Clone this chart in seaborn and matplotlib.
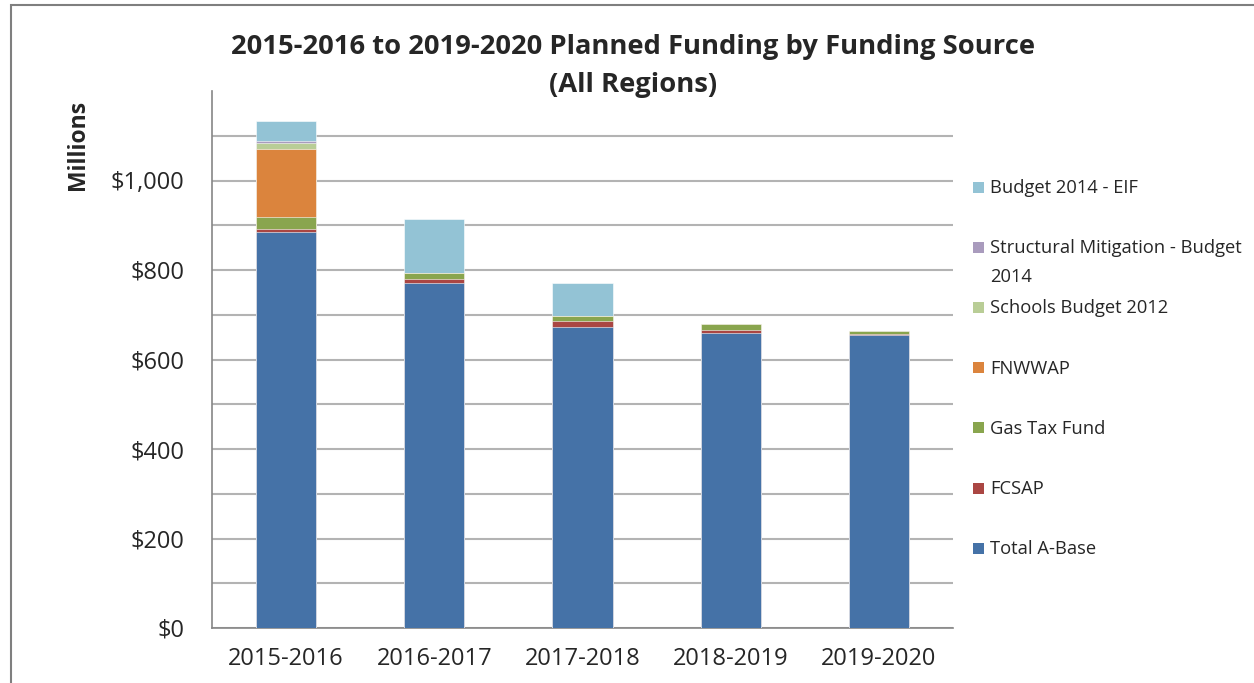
import matplotlib
matplotlib.use("Agg")
import matplotlib.pyplot as plt
import seaborn as sns
import numpy as np
import pandas as pd
from matplotlib.patches import Rectangle

years = ["2015-2016", "2016-2017", "2017-2018", "2018-2019", "2019-2020"]
total_a_base = [884, 771, 672, 659, 654]
fcsap = [7, 8, 13, 8, 4]
gas_tax_fund = [28, 14, 13, 12, 5]
fnwwap = [151, 0, 0, 0, 0]
schools_budget_2012 = [13, 0, 0, 0, 0]
structural_mitigation = [5, 0, 0, 0, 0]
budget_2014_eif = [44, 121, 72, 0, 0]
yticks = [0, 200, 400, 600, 800, 1000]
ytick_labels = ["$0", "$200", "$400", "$600", "$800", "$1,000"]

series_names = ["Total A-Base", "FCSAP", "Gas Tax Fund", "FNWWAP",
                "Schools Budget 2012", "Structural Mitigation - Budget\n2014",
                "Budget 2014 - EIF"]
series_values = [total_a_base, fcsap, gas_tax_fund, fnwwap,
                 schools_budget_2012, structural_mitigation, budget_2014_eif]
colors = ["#4572A7", "#AA4643", "#89A54E", "#DB843D",
          "#B9CD96", "#A99BBD", "#93C3D5"]

sns.set_theme(style="white")
plt.rcParams["font.family"] = ["Open Sans", "DejaVu Sans"]

W, H = 1254, 683
fig = plt.figure(figsize=(W / 100, H / 100), dpi=100)
ax = fig.add_axes([212 / W, 1 - 628 / H, (953 - 212) / W, (628 - 91) / H])

cum = np.cumsum(np.array(series_values, dtype=float), axis=0)
for i in range(len(series_names) - 1, -1, -1):
    df = pd.DataFrame({"year": years, "value": cum[i]})
    sns.barplot(data=df, x="year", y="value", color=colors[i], width=0.405,
                saturation=1, ax=ax, edgecolor="white", linewidth=0.4, zorder=3)

ax.set_ylim(0, 1200)
ax.set_xlim(-0.5, 4.5)
ax.set_yticks(yticks)
ax.set_yticklabels(ytick_labels, fontsize=17)
ax.set_yticks(np.arange(100, 1101, 200), minor=True)
ax.yaxis.grid(True, which="both", color="#B3B3B3", linewidth=1.5, zorder=0)
ax.set_axisbelow(True)
ax.set_xlabel("")
ax.set_ylabel("")
ax.tick_params(axis="x", which="major", length=0, labelsize=17, pad=14)
ax.set_xticks(np.arange(-0.5, 4.6, 1), minor=True)
ax.tick_params(axis="x", which="minor", length=6, width=1.2, color="#868686", direction="out")
ax.tick_params(axis="y", which="major", length=5, width=1.2, color="#868686", direction="out", pad=15)
ax.tick_params(axis="y", which="minor", length=0)
for s in ["top", "right"]:
    ax.spines[s].set_visible(False)
for s in ["left", "bottom"]:
    ax.spines[s].set_color("#868686")
    ax.spines[s].set_linewidth(1.2)

fig.text(0.505, 1 - 66 / H, "2015-2016 to 2019-2020 Planned Funding by Funding Source\n(All Regions)",
         ha="center", va="center", fontsize=19.7, fontweight="bold", linespacing=1.55)
fig.text(78 / W, 1 - 145 / H, "Millions", rotation=90, ha="center", va="center",
         fontsize=16.5, fontweight="bold")

# legend (reverse stacking order), evenly spaced entries
leg_top, leg_step = 187, 60.2
for k, i in enumerate(range(len(series_names) - 1, -1, -1)):
    yc = leg_top + k * leg_step
    fig.add_artist(Rectangle((973 / W, 1 - (yc + 5.5) / H), 11 / W, 11 / H,
                             transform=fig.transFigure, facecolor=colors[i],
                             edgecolor="none"))
    fig.text(990 / W, 1 - (yc - 8) / H, series_names[i], ha="left", va="top",
             fontsize=13.2, linespacing=1.75)

fig.add_artist(Rectangle((0.0085, -0.1), 1.1, 1.092, transform=fig.transFigure,
                         fill=False, edgecolor="#7F7F7F", linewidth=1.5))

fig.savefig("out.png", dpi=100)
